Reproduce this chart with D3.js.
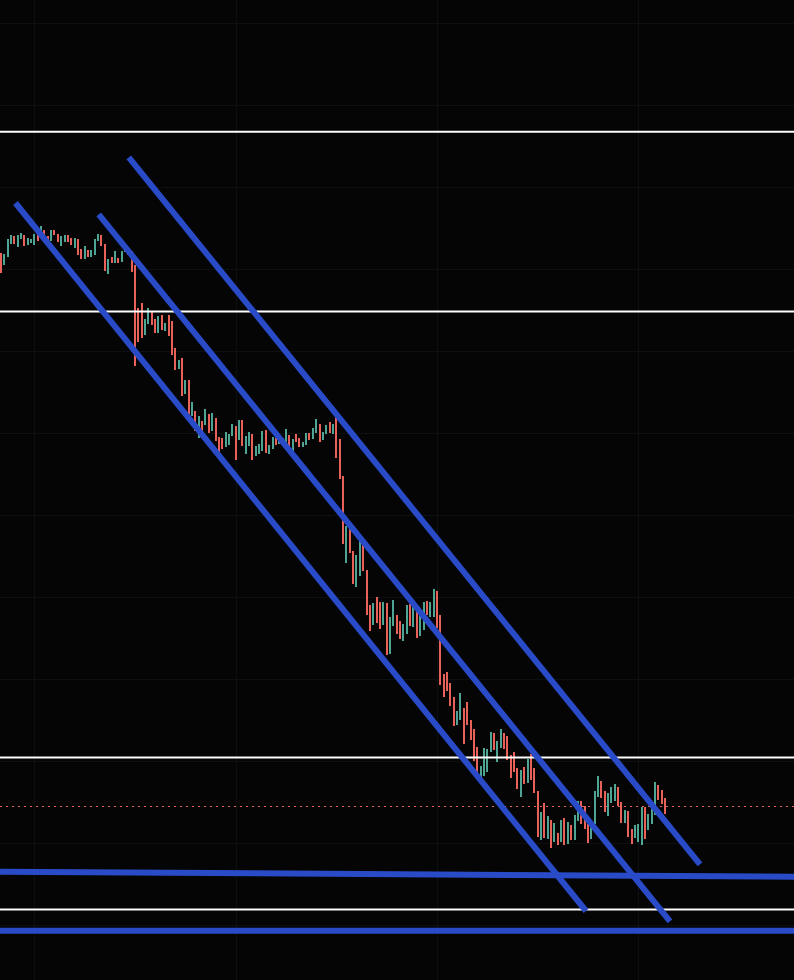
<!DOCTYPE html>
<html>
<head>
<meta charset="utf-8">
<script src="https://cdn.jsdelivr.net/npm/d3@7/dist/d3.min.js"></script>
<style>
  html, body { margin: 0; padding: 0; background: #050505; }
  svg { display: block; }
</style>
</head>
<body>
<svg id="chart" width="794" height="980"></svg>
<script>
// ---- DATA ----
const opens = [
  74.7,73.5,74.3,75.6,76.4,75.3,76.1,76.5,75.5,75.7,
  75.5,76.7,76.3,77.0,76.4,75.9,77.0,76.6,75.4,75.8,
  76.5,76.2,75.2,76.1,75.1,74.1,75.0,74.3,74.5,75.9,
  76.5,75.6,72.6,74.3,73.7,74.2,73.8,74.8,75.1,74.9,
  73.5,69.2,69.7,66.5,67.6,68.9,68.1,66.7,68.5,66.9,
  68.5,67.9,65.2,63.1,64.2,60.6,62.0,58.4,58.9,56.2,
  57.9,57.5,58.6,56.9,58.2,56.3,56.2,55.3,55.5,56.4,
  57.4,56.0,58.0,54.6,55.4,56.6,54.4,54.6,54.9,57.0,
  54.6,55.1,56.2,55.6,55.5,55.8,56.5,54.8,56.6,56.2,
  55.3,55.5,56.7,56.1,56.7,57.6,56.0,56.6,57.8,56.6,
  58.3,56.1,52.4,43.7,47.8,44.9,41.3,42.4,46.1,43.0,
  39.5,37.5,40.3,39.8,37.5,39.7,34.6,37.4,38.5,37.9,
  35.9,36.6,39.6,37.3,38.9,36.4,37.0,39.9,38.3,38.3,
  40.9,38.5,32.6,32.8,31.7,30.3,27.5,28.0,29.2,29.8,
  28.0,27.1,25.3,21.6,22.4,22.8,24.8,26.7,23.8,25.2,
  26.7,26.4,24.5,24.8,23.2,20.3,23.3,21.7,24.6,23.2,
  20.9,16.0,19.7,16.1,18.0,15.8,16.7,15.8,18.2,15.6,
  17.5,16.0,17.9,19.9,19.4,17.6,16.1,17.6,20.3,21.9,
  20.9,18.4,19.7,19.9,21.3,19.8,17.7,18.9,17.1,16.2,
  15.8,15.5,19.3,17.0,17.6,18.5,21.5,21.0,20.2
];
const closes = [
  72.7,74.6,76.1,76.5,75.6,76.5,76.7,75.4,76.2,76.1,
  76.6,75.9,77.4,76.3,75.6,77.0,76.5,75.8,76.4,76.5,
  75.8,75.5,76.2,74.5,74.1,75.4,74.3,75.0,76.1,76.6,
  75.4,72.9,74.1,73.7,74.9,73.7,74.9,75.6,74.5,72.8,
  63.4,65.8,66.2,68.1,69.2,67.5,66.7,68.4,67.0,67.7,
  66.4,64.5,63.0,64.0,60.4,62.0,58.2,59.8,56.9,58.4,
  56.9,59.1,56.7,58.7,55.9,54.8,55.1,56.8,56.6,57.6,
  54.0,58.0,55.4,56.4,56.8,54.0,55.4,55.6,56.9,54.7,
  55.5,56.3,55.5,56.5,56.2,57.1,54.8,56.1,55.8,55.3,
  55.8,56.7,56.0,57.2,58.1,55.8,56.8,57.5,56.7,57.6,
  54.2,52.1,45.6,47.4,44.7,41.6,44.5,46.0,42.9,38.5,
  36.9,39.7,37.7,37.1,39.8,34.5,38.3,40.0,36.6,36.1,
  37.6,39.5,37.4,39.4,36.2,38.8,39.8,38.5,39.8,41.1,
  37.2,31.5,30.3,30.9,29.4,27.4,28.9,30.7,25.6,27.5,
  26.0,23.9,22.2,23.4,25.2,25.1,26.8,25.0,25.9,27.1,
  25.1,24.0,22.2,22.8,21.1,23.0,21.6,24.1,22.0,20.7,
  16.3,18.8,16.2,18.4,15.2,17.7,15.5,18.0,15.5,17.8,
  16.0,18.5,19.9,17.6,17.1,15.7,18.0,20.9,22.4,20.2,
  18.8,20.7,21.3,21.6,19.4,17.7,19.0,16.3,15.6,17.5,
  17.6,19.3,16.1,18.6,19.8,21.8,20.0,19.6,18.6
];
// horizontal price levels (white lines)
const levels = [86.83, 68.84, 24.24, 9.04];
// last price marker (dotted)
const lastPrice = 19.45;
// grid
const gridPrices = [97.7, 89.5, 81.3, 73.1, 64.9, 56.7, 48.5, 40.3, 32.1, 23.9, 15.7, 7.5];
const gridBars = [10, 70, 130, 190];
// drawn trend lines: [barIndex, price] endpoints
const trendLines = [
  [[4.38, 79.7], [174.43, 8.9]],
  [[29.18, 78.57], [199.46, 7.87]],
  [[38.15, 84.26], [208.4, 13.57]],
  [[-5, 12.84], [240, 12.32]],
  [[-5, 6.93], [240, 6.93]]
];

// ---- CHART ----
const W = 794, H = 980;
const svg = d3.select("#chart");
svg.append("rect").attr("width", W).attr("height", H).attr("fill", "#050505");

const x = d3.scaleLinear().domain([0, 198]).range([0.8, 665.1]);
const y = d3.scaleLinear().domain([2, 100]).range([980, 0]);

const UP = "#4ea594", DOWN = "#e8625a";

// grid
svg.append("g").selectAll("line.h").data(gridPrices).join("line")
  .attr("x1", 0).attr("x2", W)
  .attr("y1", d => Math.round(y(d)) + 0.5).attr("y2", d => Math.round(y(d)) + 0.5)
  .attr("stroke", "#0d1011").attr("stroke-width", 1);
svg.append("g").selectAll("line.v").data(gridBars).join("line")
  .attr("y1", 0).attr("y2", H)
  .attr("x1", d => Math.round(x(d)) + 0.5).attr("x2", d => Math.round(x(d)) + 0.5)
  .attr("stroke", "#0d1011").attr("stroke-width", 1);

// dotted last price line
svg.append("line")
  .attr("x1", 0).attr("x2", W)
  .attr("y1", Math.round(y(lastPrice)) + 0.5).attr("y2", Math.round(y(lastPrice)) + 0.5)
  .attr("stroke", DOWN).attr("stroke-width", 1).attr("stroke-dasharray", "2,4");

// candles
const candles = opens.map((o, i) => ({ i, o, c: closes[i] }));
svg.append("g").selectAll("rect").data(candles).join("rect")
  .attr("x", d => Math.round(x(d.i) - 1))
  .attr("width", 2)
  .attr("y", d => y(Math.max(d.o, d.c)))
  .attr("height", d => Math.max(1, Math.abs(y(d.o) - y(d.c))))
  .attr("fill", d => d.c >= d.o ? UP : DOWN);

// white horizontal levels
svg.append("g").selectAll("line").data(levels).join("line")
  .attr("x1", 0).attr("x2", W)
  .attr("y1", d => y(d)).attr("y2", d => y(d))
  .attr("stroke", "#ffffff").attr("stroke-width", 2);

// blue trend lines
const lineGen = d3.line().x(p => x(p[0])).y(p => y(p[1]));
svg.append("g").selectAll("path").data(trendLines).join("path")
  .attr("d", lineGen)
  .attr("fill", "none")
  .attr("stroke", "#2a4bc8")
  .attr("stroke-width", 6)
  .attr("stroke-linecap", "butt");
</script>
</body>
</html>
